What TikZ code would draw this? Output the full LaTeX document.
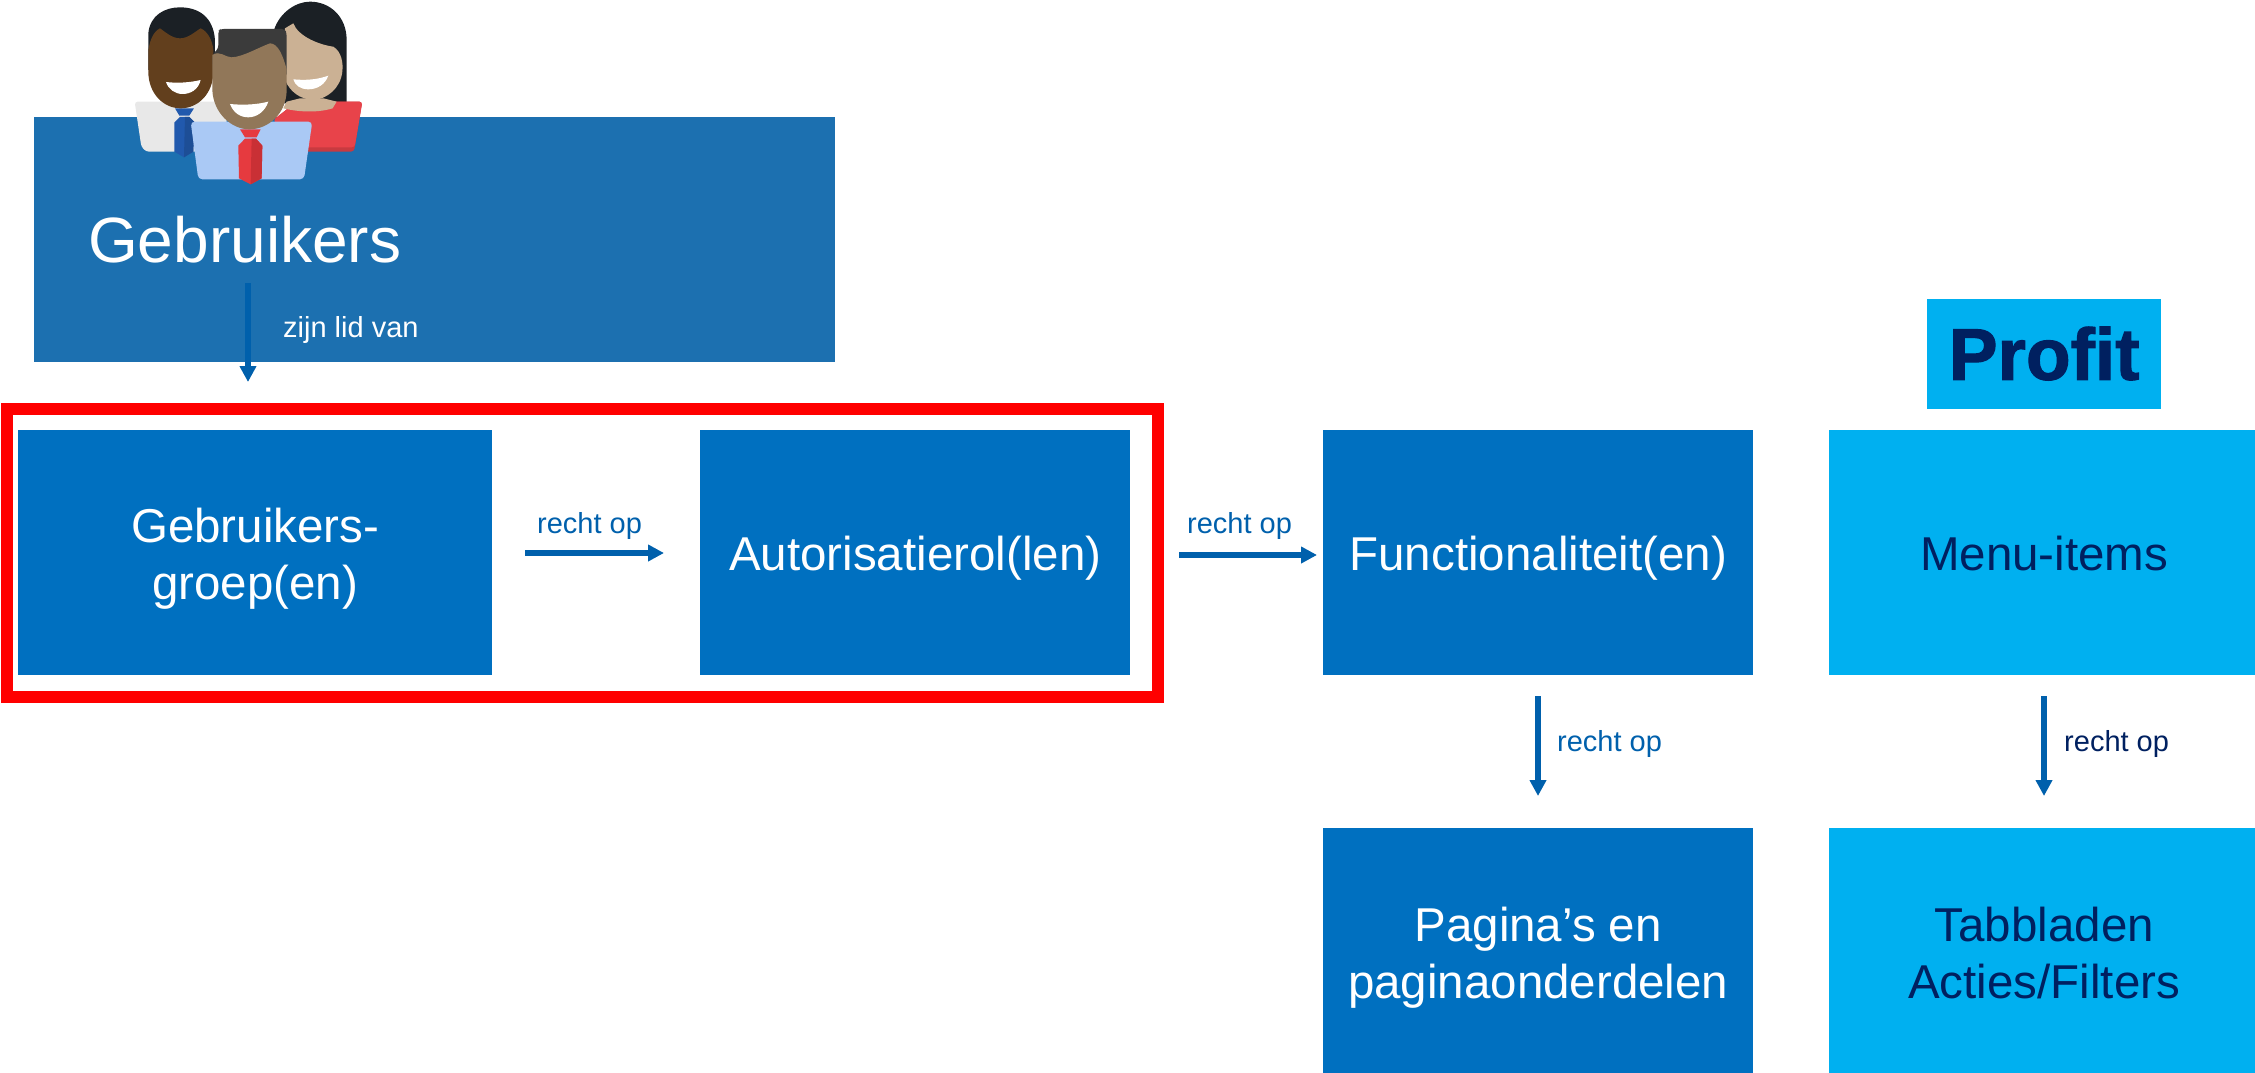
\documentclass[tikz,border=0pt]{standalone}
\usepackage{fontspec}
\setmainfont{Liberation Sans}
\newfontfamily\proffont[FakeBold=1.6]{Liberation Sans Bold}
\newcommand{\topsp}[1]{\rule{0pt}{#1pt}}
\newcommand{\botsp}[1]{\rule[-#1pt]{0pt}{#1pt}}
\definecolor{boxblue}{HTML}{0070C0}
\definecolor{userblue}{HTML}{1C70B0}
\definecolor{lightblue}{HTML}{00B0F0}
\definecolor{navy}{HTML}{002060}
\definecolor{arrowblue}{HTML}{0060AC}
\definecolor{hairblack}{HTML}{1B2025}
\definecolor{hairgrey}{HTML}{3B3B3B}
\definecolor{skinA}{HTML}{623F1D}
\definecolor{skinB}{HTML}{917759}
\definecolor{skinC}{HTML}{CBB194}
\definecolor{shirtgrey}{HTML}{E8E8E8}
\definecolor{shirtblue}{HTML}{AAC9F5}
\definecolor{shirtred}{HTML}{E8434A}
\definecolor{shirtreddark}{HTML}{C83A40}
\definecolor{tieblue}{HTML}{2159AD}
\definecolor{tiebluedark}{HTML}{1D4E96}
\definecolor{tiered}{HTML}{E63A3F}
\definecolor{tiereddark}{HTML}{C93035}
\usetikzlibrary{arrows.meta}
\tikzset{
  x=1pt,y=-1pt,
  boxd/.style={fill=boxblue,text=white,draw=none,inner sep=0pt,anchor=north west,align=center,font=\fontsize{47.5}{57}\selectfont},
  boxl/.style={boxd,fill=lightblue,text=navy},
  lab/.style={anchor=base west,inner sep=0pt,font=\fontsize{29}{34}\selectfont,text=arrowblue},
  arr/.style={draw=arrowblue,line width=6pt,-{Triangle[length=16pt,width=16pt]}},
}
\begin{document}
\begin{tikzpicture}
\useasboundingbox (0,0) rectangle (2255,1073);
\node[boxd,fill=userblue,minimum width=801pt,minimum height=245pt] (users) at (34,117) {};
\node[anchor=base west,inner sep=0pt,text=white,font=\fontsize{64}{70}\selectfont] (userslab) at (88,262) {Gebruikers};
\node[draw=red,line width=12pt,inner sep=0pt,outer sep=0pt,anchor=north west,minimum width=1151pt,minimum height=288pt] (frame) at (7,409) {};
\node[boxd,minimum width=474pt,minimum height=245pt] (groep) at (18,430) {\topsp{50}Gebruikers-\\groep(en)\botsp{14}};
\node[boxd,minimum width=430pt,minimum height=245pt] (rol) at (700,430) {\topsp{50}Autorisatierol(len)\botsp{14}};
\node[boxd,minimum width=430pt,minimum height=245pt] (func) at (1323,430) {\topsp{50}Functionaliteit(en)\botsp{14}};
\node[boxl,minimum width=430pt,minimum height=245pt] (menu) at (1829,430) {\topsp{50}Menu-items\botsp{14}};
\node[boxd,minimum width=430pt,minimum height=245pt] (pag) at (1323,828) {\topsp{52}Pagina’s en\\paginaonderdelen\botsp{14}};
\node[boxl,minimum width=430pt,minimum height=245pt] (tab) at (1829,828) {\topsp{52}Tabbladen\\Acties/Filters\botsp{14}};
\node[boxl,minimum width=234pt,minimum height=110pt,font=\fontsize{73}{80}\proffont] (profit) at (1927,299) {\topsp{60}Profit\botsp{9}};
\coordinate (a1s) at (248,283); \coordinate (a1e) at (248,382);
\coordinate (a2s) at (525,553); \coordinate (a2e) at (664,553);
\coordinate (a3s) at (1179,555); \coordinate (a3e) at (1317,555);
\coordinate (a4s) at (1538,696); \coordinate (a4e) at (1538,796);
\coordinate (a5s) at (2044,696); \coordinate (a5e) at (2044,796);
\draw[arr] (a1s) -- (a1e);
\draw[arr] (a2s) -- (a2e);
\draw[arr] (a3s) -- (a3e);
\draw[arr] (a4s) -- (a4e);
\draw[arr] (a5s) -- (a5e);
\node[lab,text=white] (l1) at (283,337) {zijn lid van};
\node[lab] (l2) at (537,533) {recht op};
\node[lab] (l3) at (1187,533) {recht op};
\node[lab] (l4) at (1557,751) {recht op};
\node[lab,text=navy] (l5) at (2064,751) {recht op};
% people icon
\begin{scope}[shift={(130,0)},x=0.3333pt,y=-0.3333pt]
  % left man
  \fill[shirtgrey,rounded corners=3pt] (14,305) -- (290,305) -- (290,400) -- (200,455) -- (48,455) -- (34,440) -- cycle;
  \fill[tieblue] (135,325) -- (192,325) -- (178,347) -- (148,347) -- cycle;
  \fill[tieblue] (133,368) -- (150,351) -- (178,351) -- (193,366) -- (190,455) -- (162,472) -- (133,455) -- cycle;
  \fill[tiebluedark] (165,351) -- (178,351) -- (193,366) -- (190,455) -- (162,472) -- cycle;
  \fill[hairblack] (55,210) -- (55,100) .. controls (60,45) and (105,22) .. (150,22) .. controls (205,22) and (250,50) .. (255,120) -- (255,210) -- cycle;
  \fill[skinA] (55,150) .. controls (60,120) and (70,95) .. (90,85) .. controls (105,95) and (125,115) .. (150,115) .. controls (175,115) and (195,95) .. (212,85) .. controls (235,95) and (248,125) .. (250,150) -- (250,215) .. controls (250,280) and (205,325) .. (152,325) .. controls (100,325) and (55,280) .. (55,215) -- cycle;
  \fill[white] (108,246) .. controls (140,250) and (180,248) .. (212,240) .. controls (205,270) and (180,282) .. (158,282) .. controls (135,282) and (115,268) .. (108,246) -- cycle;
  % woman
  \fill[hairblack] (432,90) .. controls (450,35) and (500,5) .. (540,5) .. controls (600,5) and (650,50) .. (650,120) -- (650,310) -- (440,310) -- cycle;
  \fill[shirtreddark,rounded corners=3pt] (430,360) -- (500,305) -- (697,305) -- (672,455) -- (500,455) -- cycle;
  \fill[shirtred,rounded corners=3pt] (430,360) -- (500,305) -- (697,305) -- (674,442) -- (500,442) -- cycle;
  \fill[skinC] (465,85) -- (490,70) .. controls (505,110) and (570,135) .. (610,140) .. controls (635,155) and (640,190) .. (637,215) .. controls (632,265) and (590,298) .. (550,300) .. controls (510,298) and (480,275) .. (465,240) -- cycle;
  \fill[skinC] (510,295) -- (580,295) -- (620,305) -- (608,325) .. controls (560,340) and (500,335) .. (460,325) -- (470,305) -- cycle;
  \fill[white] (490,238) .. controls (530,242) and (565,238) .. (595,227) .. controls (585,255) and (560,268) .. (535,268) .. controls (510,268) and (495,255) .. (490,238) -- cycle;
  % centre man
  \fill[shirtblue,rounded corners=4pt] (182,365) -- (547,365) -- (522,538) -- (205,538) -- cycle;
  \fill[tiered] (330,388) -- (392,388) -- (380,412) -- (345,412) -- cycle;
  \fill[tiered] (325,437) -- (345,416) -- (378,416) -- (397,437) -- (395,535) -- (362,553) -- (327,535) -- cycle;
  \fill[tiereddark] (365,416) -- (378,416) -- (397,437) -- (395,535) -- (362,553) -- cycle;
  \fill[hairgrey,rounded corners=3pt] (247,165) -- (265,145) -- (265,92) -- (272,87) -- (465,87) -- (470,100) -- (470,230) -- (250,230) -- cycle;
  \fill[skinB] (247,165) -- (247,270) .. controls (250,340) and (305,388) .. (358,388) .. controls (415,388) and (470,340) .. (470,270) -- (470,208) .. controls (460,170) and (445,130) .. (420,130) .. controls (380,145) and (340,170) .. (305,172) .. controls (285,172) and (270,150) .. (247,165) -- cycle;
  \fill[white] (300,312) .. controls (340,316) and (380,314) .. (415,305) .. controls (405,335) and (380,352) .. (355,352) .. controls (330,352) and (310,338) .. (300,312) -- cycle;
\end{scope}
\end{tikzpicture}
\end{document}
